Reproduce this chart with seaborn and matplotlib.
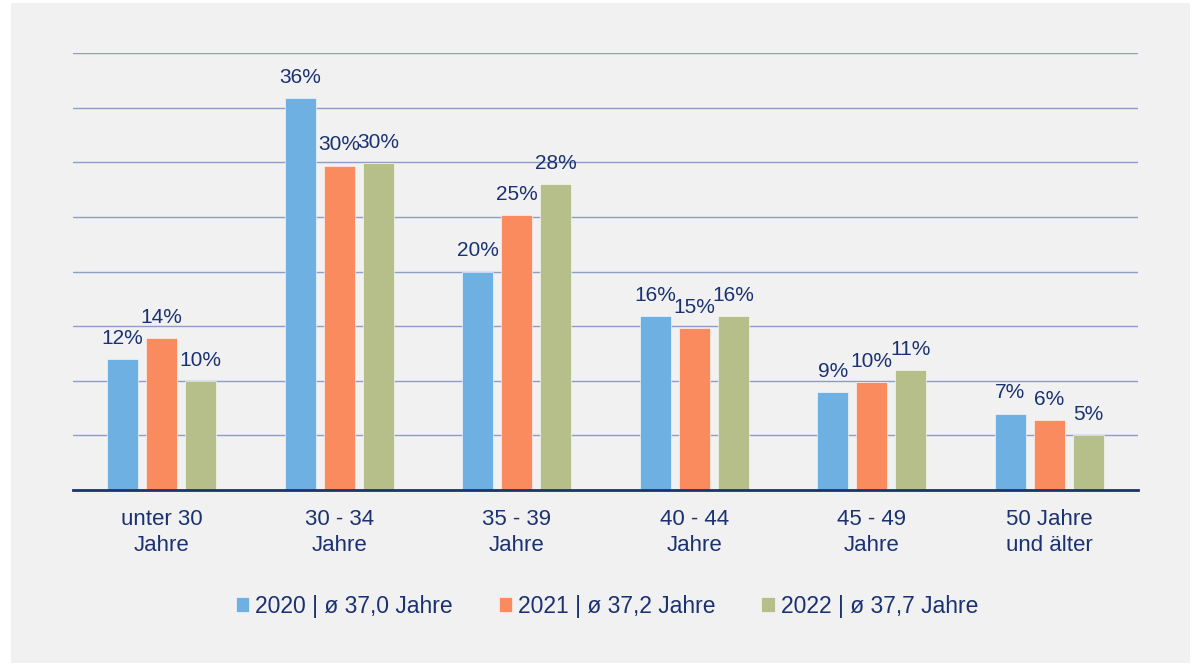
import pandas as pd
import matplotlib.pyplot as plt
import seaborn as sns
from matplotlib.patches import Rectangle

# Daten (Anteil in %)
categories = ["unter 30\nJahre", "30 - 34\nJahre", "35 - 39\nJahre",
              "40 - 44\nJahre", "45 - 49\nJahre", "50 Jahre\nund älter"]
series = ["2020 | ø 37,0 Jahre", "2021 | ø 37,2 Jahre", "2022 | ø 37,7 Jahre"]
vals_2020 = [12.0, 35.9, 20.0, 15.9, 9.0, 7.0]
vals_2021 = [13.9, 29.7, 25.2, 14.8, 9.9, 6.4]
vals_2022 = [10.0, 29.9, 28.0, 15.9, 11.0, 5.0]
colors = ["#6FB0E2", "#F98B5E", "#B6BF8A"]

df = pd.DataFrame({
    "Alter": categories * 3,
    "Jahr": [s for s in series for _ in categories],
    "Anteil": vals_2020 + vals_2021 + vals_2022,
})

sns.set_style("white")
plt.rcParams["font.family"] = ["Liberation Sans", "DejaVu Sans"]
navy = "#1B3272"
panel = "#F1F1F1"

fig = plt.figure(figsize=(11.96, 6.67), dpi=100, facecolor="white")
fig.patches.append(Rectangle((11 / 1196, 1 - 663 / 667), 1179 / 1196, 660 / 667,
                             transform=fig.transFigure, facecolor=panel,
                             edgecolor="none", zorder=-10))
ax = fig.add_axes([73 / 1196, 1 - 490 / 667, 1065 / 1196, 437 / 667])
ax.set_facecolor(panel)

sns.barplot(data=df, x="Alter", y="Anteil", hue="Jahr", hue_order=series,
            palette=colors, saturation=1, width=0.66, gap=0.2, ax=ax, zorder=3,
            edgecolor="#FFFFFF", linewidth=0.4)

for cont in ax.containers:
    ax.bar_label(cont, labels=[f"{v.get_height():.0f}%" for v in cont],
                 padding=8, fontsize=15, color=navy)

ax.set_ylim(0, 40)
ax.set_xlim(-0.5, 5.5)
ax.set_yticks(range(5, 41, 5))
ax.yaxis.grid(True, color="#8C9DC8", linewidth=1, zorder=0)
ax.set_axisbelow(True)
ax.tick_params(axis="y", left=False, labelleft=False)
ax.tick_params(axis="x", bottom=False, labelsize=16, labelcolor=navy, pad=10)
for lbl in ax.get_xticklabels():
    lbl.set_linespacing(1.35)
for s in ["top", "right", "left"]:
    ax.spines[s].set_visible(False)
ax.spines["bottom"].set_color(navy)
ax.spines["bottom"].set_linewidth(2)
ax.spines["bottom"].set_zorder(4)
ax.set_xlabel("")
ax.set_ylabel("")

handles, labels = ax.get_legend_handles_labels()
ax.legend(handles, labels, loc="center", bbox_to_anchor=(534 / 1065, -116 / 437),
          ncol=3, frameon=False, fontsize=16.5, labelcolor=navy,
          handlelength=0.6, handleheight=0.6, handletextpad=0.25, columnspacing=2.0)

fig.savefig("out.png", dpi=100, facecolor="white")
